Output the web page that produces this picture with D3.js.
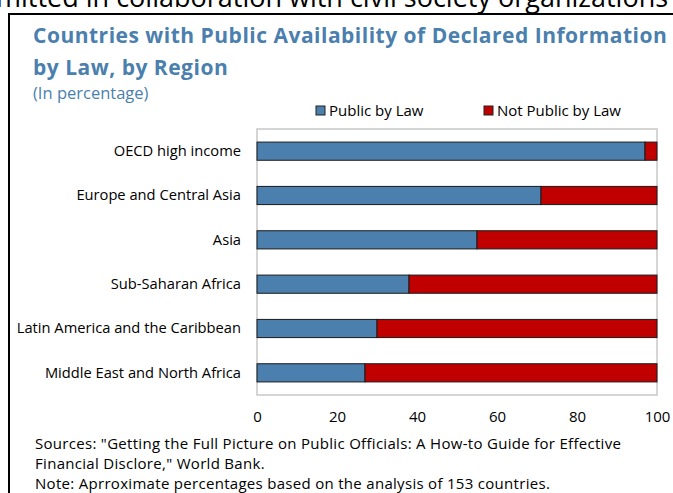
<!DOCTYPE html>
<html>
<head>
<meta charset="utf-8">
<script src="https://cdn.jsdelivr.net/npm/d3@7"></script>
<style>
  body { margin: 0; background: #fff; overflow: hidden; }
  text { font-family: "Open Sans", "Noto Sans", sans-serif; }
</style>
</head>
<body>
<div id="chart"></div>
<script>
// data
var regions = ["OECD high income", "Europe and Central Asia", "Asia",
  "Sub-Saharan Africa", "Latin America and the Caribbean", "Middle East and North Africa"];
var publicByLaw = [97, 71, 55, 38, 30, 27];
var notPublicByLaw = [3, 29, 45, 62, 70, 73];
var seriesNames = ["Public by Law", "Not Public by Law"];
var seriesColors = ["#4a7fae", "#c00000"];
var xTicks = [0, 20, 40, 60, 80, 100];

var W = 673, H = 493;
var margin = {top: 129, right: 16, bottom: 98, left: 257},
    width = W - margin.left - margin.right,
    height = H - margin.top - margin.bottom;

var svg = d3.select("#chart").append("svg")
    .attr("width", W)
    .attr("height", H);

// page text above the box (cut off in the source too)
svg.append("text")
    .attr("x", -4).attr("y", 7)
    .style("font-size", "27px").style("fill", "#000")
    .text("mitted in collaboration with civil society organizations");

// black frame
svg.append("rect")
    .attr("x", 9).attr("y", 14)
    .attr("width", W + 10).attr("height", H + 10)
    .style("fill", "none").style("stroke", "#000").style("stroke-width", 2);

// title
var title = svg.append("text")
    .style("font-size", "21px").style("font-weight", "bold").style("fill", "#4a7fae")
    .style("letter-spacing", "0.5px");
title.append("tspan").attr("x", 33).attr("y", 43).text("Countries with Public Availability of Declared Information");
title.append("tspan").attr("x", 33).attr("y", 75).text("by Law, by Region");
svg.append("text")
    .attr("x", 33).attr("y", 99)
    .style("font-size", "16.5px").style("fill", "#4a7fae")
    .text("(In percentage)");

// legend
var legend = svg.selectAll(".legend")
    .data(seriesNames)
    .enter().append("g")
    .attr("class", "legend")
    .attr("transform", function(d, i) { return "translate(" + [316, 484][i] + ",106)"; });
legend.append("rect")
    .attr("width", 9).attr("height", 9)
    .style("fill", function(d, i) { return seriesColors[i]; })
    .style("stroke", "#222").style("stroke-width", 1);
legend.append("text")
    .attr("x", 13).attr("y", 10)
    .style("font-size", "15px").style("fill", "#000")
    .text(function(d) { return d; });

var g = svg.append("g")
    .attr("transform", "translate(" + margin.left + "," + margin.top + ")");

var x = d3.scaleLinear().domain([0, 100]).range([0, width]);
var y = d3.scaleBand().domain(regions).range([0, height]).paddingInner(0.59).paddingOuter(0.295);

// plot frame
g.append("rect")
    .attr("width", width).attr("height", height)
    .style("fill", "none").style("stroke", "#c8c8c8").style("stroke-width", 1.5);

// stacked bars
var rows = regions.map(function(r, i) {
  return {region: r, "Public by Law": publicByLaw[i], "Not Public by Law": notPublicByLaw[i]};
});
var stack = d3.stack().keys(seriesNames);
var layers = g.selectAll(".layer")
    .data(stack(rows))
    .enter().append("g")
    .attr("class", "layer")
    .style("fill", function(d, i) { return seriesColors[i]; });
layers.selectAll("rect")
    .data(function(d) { return d; })
    .enter().append("rect")
    .attr("x", function(d) { return x(d[0]); })
    .attr("y", function(d) { return y(d.data.region); })
    .attr("width", function(d) { return x(d[1]) - x(d[0]); })
    .attr("height", y.bandwidth())
    .style("stroke", "#1a1a1a").style("stroke-width", 1);

// y axis labels
var yAxis = g.append("g")
    .call(d3.axisLeft(y).tickSize(0).tickPadding(16));
yAxis.select(".domain").remove();
yAxis.selectAll("text").style("font-size", "14.7px").style("fill", "#000")
    .style("font-family", "'Open Sans', sans-serif");

// x axis
var xAxis = g.append("g")
    .attr("transform", "translate(0," + height + ")")
    .call(d3.axisBottom(x).tickValues(xTicks).tickSize(0).tickPadding(16));
xAxis.select(".domain").remove();
xAxis.selectAll("text").style("font-size", "15px").style("fill", "#000")
    .style("font-family", "'Open Sans', sans-serif");

// notes
var notes = ["Sources: \"Getting the Full Picture on Public Officials: A How-to Guide for Effective",
  "Financial Disclore,\" World Bank.",
  "Note: Aprroximate percentages based on the analysis of 153 countries."];
svg.selectAll(".note")
    .data(notes)
    .enter().append("text")
    .attr("class", "note")
    .attr("x", 35)
    .attr("y", function(d, i) { return 449 + i * 20; })
    .style("font-size", "15px").style("letter-spacing", "0.3px").style("fill", "#000")
    .text(function(d) { return d; });
</script>
</body>
</html>
